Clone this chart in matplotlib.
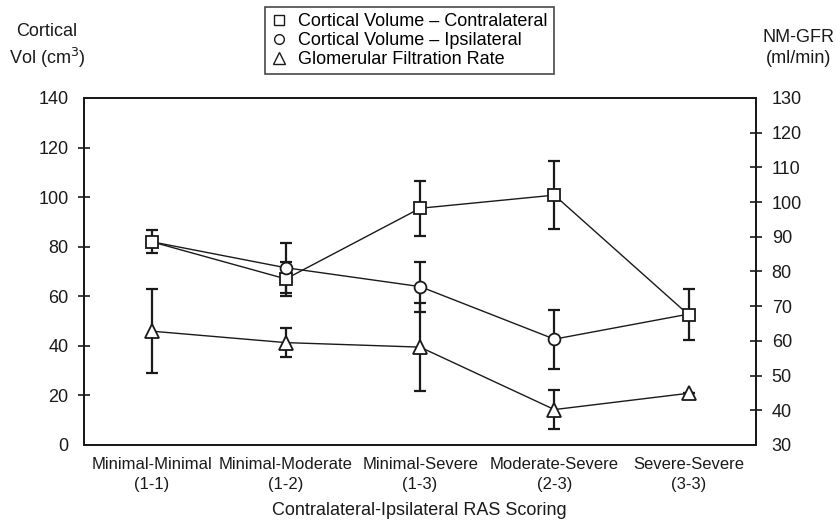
import matplotlib
matplotlib.use("Agg")
from matplotlib import pyplot as plt
from matplotlib.lines import Line2D
import numpy as np

plt.rcParams['font.family'] = ['Liberation Sans', 'DejaVu Sans']

# categories on x axis
categories = ["Minimal-Minimal\n(1-1)", "Minimal-Moderate\n(1-2)", "Minimal-Severe\n(1-3)",
              "Moderate-Severe\n(2-3)", "Severe-Severe\n(3-3)"]

# cortical volume (cm3), left axis
vol_contra = [82.0, 67.0, 95.5, 100.8, 52.5]
vol_contra_err = [4.7, 6.7, 11.0, 13.8, 10.3]
vol_ipsi = [82.0, 71.5, 63.9, 42.7, 52.8]
vol_ipsi_err = [2.0, 10.1, 10.1, 11.9, 0.0]

# glomerular filtration rate (ml/min), right axis
gfr = [62.8, 59.5, 58.2, 40.2, 44.9]
gfr_err = [12.2, 4.2, 12.6, 5.5, 0.0]

left_ticks = [0, 20, 40, 60, 80, 100, 120, 140]
right_ticks = [30, 40, 50, 60, 70, 80, 90, 100, 110, 120, 130]

ink = '#1a1a1a'
fs = 13
x = np.arange(len(categories))

fig = plt.figure(figsize=(8.36, 5.31), dpi=100)
ax = fig.add_axes([0.101, 0.162, 0.803, 0.6535])
ax2 = ax.twinx()

mk = dict(markerfacecolor='white', markeredgecolor=ink, markeredgewidth=1.3, color=ink, lw=1.0)
eb = dict(fmt='none', ecolor=ink, elinewidth=1.6, capsize=4.5, capthick=1.6)

ax.errorbar(x, vol_ipsi, yerr=vol_ipsi_err, zorder=2, **eb)
ax.plot(x, vol_ipsi, marker='none', zorder=2.2, color=ink, lw=1.0)
ax.errorbar(x, vol_contra, yerr=vol_contra_err, zorder=2.4, **eb)
ax.plot(x, vol_contra, marker='s', markersize=8.5, zorder=3, **mk)
# ipsilateral markers at the ends sit under the contralateral squares
ax.plot(x[1:4], vol_ipsi[1:4], marker='o', ls='none', markersize=8.5, zorder=5,
        markerfacecolor='white', markeredgecolor=ink, markeredgewidth=1.3)

ax2.errorbar(x, gfr, yerr=gfr_err, zorder=2, **eb)
ax2.plot(x, gfr, marker='^', markersize=9.5, zorder=3, **mk)

ax.set_xlim(-0.5, 4.5)
ax.set_ylim(0, 140)
ax2.set_ylim(30, 130)
ax.set_xticks(x)
ax.set_xticklabels(categories, fontsize=12, linespacing=1.4)
ax.set_yticks(left_ticks[1:-1], minor=False)
ax.set_yticks([0, 140], minor=True)
ax.set_yticklabels([str(t) for t in left_ticks[1:-1]], fontsize=fs)
ax.set_yticklabels(['0', '140'], minor=True, fontsize=fs)
ax2.set_yticks(right_ticks[1:-1])
ax2.set_yticks([30, 130], minor=True)
ax2.set_yticklabels([str(t) for t in right_ticks[1:-1]], fontsize=fs)
ax2.set_yticklabels(['30', '130'], minor=True, fontsize=fs)

ax.tick_params(axis='x', length=0, pad=9, colors=ink)
ax.tick_params(axis='y', which='major', direction='inout', length=9, width=1.2, pad=7, colors=ink)
ax.tick_params(axis='y', which='minor', length=0, pad=11.5, colors=ink)
ax2.tick_params(axis='y', which='major', direction='inout', length=9, width=1.2, pad=7, colors=ink)
ax2.tick_params(axis='y', which='minor', length=0, pad=11.5, colors=ink)
for a in (ax, ax2):
    for s in a.spines.values():
        s.set_linewidth(1.4)
        s.set_color(ink)

fig.text(0.056, 0.912, "Cortical\nVol (cm$^3$)", ha='center', va='center', fontsize=fs,
         linespacing=1.3, color=ink)
fig.text(0.955, 0.91, "NM-GFR\n(ml/min)", ha='center', va='center', fontsize=fs,
         linespacing=1.3, color=ink)
fig.text(0.502, 0.038, "Contralateral-Ipsilateral RAS Scoring", ha='center', va='center',
         fontsize=fs, color=ink)

handles = [
    Line2D([], [], marker='s', ls='none', markersize=7.5, markerfacecolor='white', markeredgecolor=ink),
    Line2D([], [], marker='o', ls='none', markersize=7, markerfacecolor='white', markeredgecolor=ink),
    Line2D([], [], marker='^', ls='none', markersize=8, markerfacecolor='white', markeredgecolor=ink),
]
labels = ["Cortical Volume \u2013 Contralateral", "Cortical Volume \u2013 Ipsilateral",
          "Glomerular Filtration Rate"]
leg = fig.legend(handles, labels, loc='upper center', bbox_to_anchor=(0.49, 0.987),
                 fontsize=fs, frameon=True, fancybox=False, edgecolor=ink,
                 handlelength=0.8, handletextpad=0.7, borderpad=0.35, labelspacing=0.1,
                 borderaxespad=0)
leg.get_frame().set_linewidth(1.2)

fig.savefig("out.png", dpi=100)
